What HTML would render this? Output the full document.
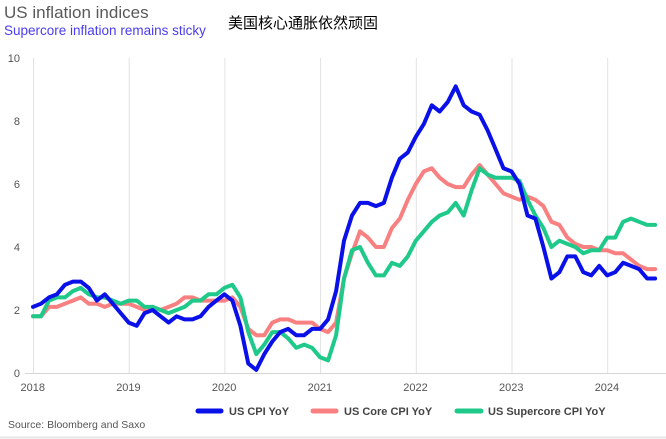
<!DOCTYPE html>
<html><head><meta charset="utf-8"><style>
html,body{margin:0;padding:0;background:#fff;width:666px;height:439px;overflow:hidden}
svg{display:block;font-family:"Liberation Sans","Noto Sans CJK SC",sans-serif}
</style></head><body>
<svg id="s" width="666" height="439" viewBox="0 0 666 439">
<text x="4" y="18" font-size="17" fill="#5a5a5a">US inflation indices</text>
<text x="4" y="35" font-size="13.5" fill="#4a3cf0">Supercore inflation remains sticky</text>
<text x="228" y="28" font-size="15" fill="#000" font-family="'Noto Sans CJK SC',sans-serif">美国核心通胀依然顽固</text>
<g id="grid" stroke="#e2e2e2" stroke-width="1"></g>
<line x1="25" y1="373.5" x2="666" y2="373.5" stroke="#d6d6d6"/>
<g id="lbl" font-size="11" fill="#555"></g>
<g id="lines" fill="none" stroke-width="4" stroke-linejoin="round" stroke-linecap="round"></g>
<line x1="198" y1="411" x2="221" y2="411" stroke="#0a10e8" stroke-width="5" stroke-linecap="round"/>
<text x="229" y="415" font-size="11" font-weight="bold" fill="#444">US CPI YoY</text>
<line x1="313" y1="411" x2="336" y2="411" stroke="#f88080" stroke-width="5" stroke-linecap="round"/>
<text x="344" y="415" font-size="11" font-weight="bold" fill="#444">US Core CPI YoY</text>
<line x1="457" y1="411" x2="481" y2="411" stroke="#1ec98a" stroke-width="5" stroke-linecap="round"/>
<text x="488" y="415" font-size="11" font-weight="bold" fill="#444">US Supercore CPI YoY</text>
<text x="8" y="428" font-size="10.5" fill="#555">Source: Bloomberg and Saxo</text>
<line x1="0" y1="437.5" x2="666" y2="437.5" stroke="#e6e6e6" stroke-width="2"/>
</svg>
<script>
var NS="http://www.w3.org/2000/svg";
function X(i){return 33+95.7*i/12}
function Y(v){return 373-31.5*v}
var g=document.getElementById("grid"),l=document.getElementById("lbl"),ln=document.getElementById("lines");
for(var k=0;k<7;k++){var x=X(k*12)+0.5;
 var e=document.createElementNS(NS,"line");e.setAttribute("x1",x);e.setAttribute("x2",x);e.setAttribute("y1",58);e.setAttribute("y2",373);g.appendChild(e);
 var t=document.createElementNS(NS,"text");t.setAttribute("x",x-13);t.setAttribute("y",391);t.textContent=2018+k;l.appendChild(t);}
for(var v=0;v<=10;v+=2){var t=document.createElementNS(NS,"text");t.setAttribute("x",20);t.setAttribute("y",Y(v)+4);t.setAttribute("text-anchor","end");t.textContent=v;l.appendChild(t);}
var blue=[2.1,2.2,2.4,2.5,2.8,2.9,2.9,2.7,2.3,2.5,2.2,1.9,1.6,1.5,1.9,2.0,1.8,1.6,1.8,1.7,1.7,1.8,2.1,2.3,2.5,2.3,1.5,0.3,0.1,0.6,1.0,1.3,1.4,1.2,1.2,1.4,1.4,1.7,2.6,4.2,5.0,5.4,5.4,5.3,5.4,6.2,6.8,7.0,7.5,7.9,8.5,8.3,8.6,9.1,8.5,8.3,8.2,7.7,7.1,6.5,6.4,6.0,5.0,4.9,4.0,3.0,3.2,3.7,3.7,3.2,3.1,3.4,3.1,3.2,3.5,3.4,3.3,3.0,3.0];
var red=[1.8,1.8,2.1,2.1,2.2,2.3,2.4,2.2,2.2,2.1,2.2,2.2,2.2,2.1,2.0,2.1,2.0,2.1,2.2,2.4,2.4,2.3,2.3,2.3,2.3,2.4,2.1,1.4,1.2,1.2,1.6,1.7,1.7,1.6,1.6,1.6,1.4,1.3,1.6,3.0,3.8,4.5,4.3,4.0,4.0,4.6,4.9,5.5,6.0,6.4,6.5,6.2,6.0,5.9,5.9,6.3,6.6,6.3,6.0,5.7,5.6,5.5,5.6,5.5,5.3,4.8,4.7,4.3,4.1,4.0,4.0,3.9,3.9,3.8,3.8,3.6,3.4,3.3,3.3];
var green=[1.8,1.8,2.3,2.4,2.4,2.6,2.7,2.5,2.4,2.4,2.3,2.2,2.3,2.3,2.1,2.1,2.0,1.9,2.0,2.1,2.3,2.3,2.5,2.5,2.7,2.8,2.4,1.3,0.6,0.9,1.3,1.3,1.1,0.8,0.9,0.8,0.5,0.4,1.2,3.0,3.9,4.0,3.5,3.1,3.1,3.5,3.4,3.7,4.2,4.5,4.8,5.0,5.1,5.4,5.0,5.8,6.5,6.3,6.2,6.2,6.2,6.1,5.5,5.0,4.6,4.0,4.2,4.1,4.0,3.8,3.9,3.9,4.3,4.3,4.8,4.9,4.8,4.7,4.7];
[[red,"#f88080"],[green,"#1ec98a"],[blue,"#0a10e8"]].forEach(function(s){
 var p=s[0].map(function(v,i){return X(i).toFixed(1)+","+Y(v).toFixed(1)}).join(" ");
 var e=document.createElementNS(NS,"polyline");e.setAttribute("points",p);e.setAttribute("stroke",s[1]);ln.appendChild(e);});
</script>
</body></html>
